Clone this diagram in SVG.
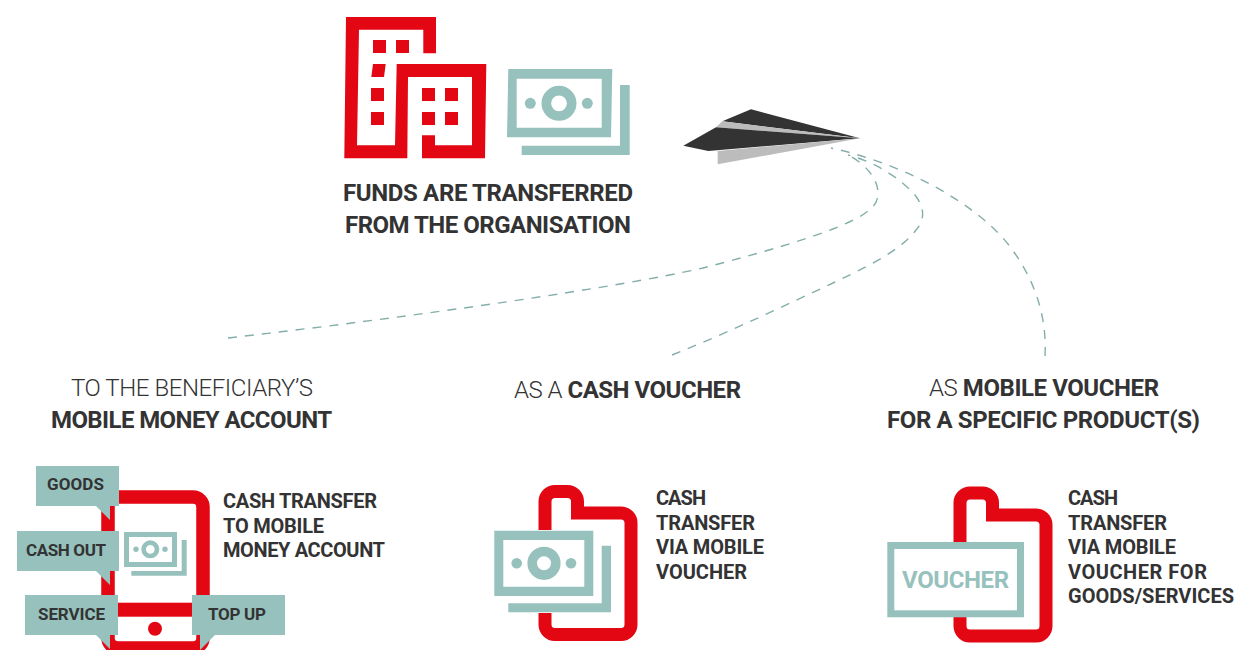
<svg xmlns="http://www.w3.org/2000/svg" width="1235" height="650" viewBox="0 0 1235 650">
<style>
.r{fill:#e30613}.t{fill:#97c1bd}.w{fill:#fff}
.rs{fill:none;stroke:#e30613;stroke-width:13;stroke-linejoin:miter}
.d{fill:none;stroke:#84aeaa;stroke-width:1.4;stroke-dasharray:9 8}
text{font-family:Roboto,"Liberation Sans",sans-serif;fill:#333334;font-weight:700}
.h{font-size:24px}.s{font-size:20px}.c{font-size:17px}
.l{font-weight:300}
</style>
<rect width="1235" height="650" fill="#fff"/>
<g id="connectors">
<path class="d" d="M228,338C420,316 620,287 703,268C800,243 850,225 866.700,212C873,207 878,203 878,193C878,178 864,163 848,155"/>
<path class="d" d="M672,355C730,332 790,303 833,283C860,270 900,252 916,230C925,220 925,208 915,195C900,178 875,162 848,155"/>
<path class="d" d="M1045,356C1047,318 1036,280 1008,244C972,200 900,163 831,148"/>
</g>
<g id="building">
<path class="r" d="M346,17H436V53.3H423.3V29.7H359L357,145.3H395L396.7,64H486.3L485,158.3H422V135.3H435V145.3H472V77H408L407.3,158.3H344.3Z"/>
<rect class="r" x="373" y="40" width="13" height="13"/><rect class="r" x="396" y="40" width="13" height="13"/>
<path class="r" d="M373,64H385.7L384,77H371.3Z"/>
<rect class="r" x="371" y="88" width="13" height="13"/><rect class="r" x="371" y="112" width="13" height="13"/>
<rect class="r" x="422" y="88" width="13" height="13"/><rect class="r" x="445" y="88" width="13" height="13"/>
<rect class="r" x="422" y="112" width="13" height="13"/><rect class="r" x="445" y="112" width="13" height="13"/>
</g>
<g id="money">
<path class="t" fill-rule="evenodd" d="M508.3,69H612.3L611,137.3H507ZM516.7,78.7V127.7H601.7V78.7Z"/>
<path class="t" d="M620,85H629.7V155H521.7V145.7H620Z"/>
<circle cx="559" cy="103.3" r="12.7" fill="none" stroke="#97c1bd" stroke-width="9.6"/>
<circle class="t" cx="530.3" cy="103.3" r="5.5"/><circle class="t" cx="587.3" cy="103.3" r="5.5"/>
</g>
<g id="plane">
<path fill="#333334" d="M751,109.3L860,138.3L722.3,121.3Z"/>
<path fill="#bcbcbc" d="M722.3,121.3L716,127.3L860,138.3Z"/>
<path fill="#333334" d="M683.3,145.7L716,127.3L860,138.3L708.3,151Z"/>
<path fill="#bcbcbc" d="M717.7,151V164.3L860,138.3Z"/>
</g>
<g id="title"><text class="h" x="343" y="201" textLength="290">FUNDS ARE TRANSFERRED</text><text class="h" x="345" y="233" textLength="286">FROM THE ORGANISATION</text></g>
<g id="label-mobile-money"><text class="h l" style="font-weight:300" x="71" y="396" textLength="242">TO THE BENEFICIARY’S</text><text class="h" x="51" y="428" textLength="281">MOBILE MONEY ACCOUNT</text></g>
<g id="label-cash-voucher"><text class="h" x="514" y="398" textLength="227"><tspan class="l">AS A </tspan>CASH VOUCHER</text></g>
<g id="label-mobile-voucher"><text class="h" x="929" y="396" textLength="230"><tspan class="l">AS </tspan>MOBILE VOUCHER</text><text class="h" x="887" y="428" textLength="313">FOR A SPECIFIC PRODUCT(S)</text></g>
<g id="phone">
<rect x="108" y="497" width="95" height="151" rx="10" fill="none" stroke="#e30613" stroke-width="13.5"/>
<rect class="r" x="108" y="602.7" width="95" height="14"/>
<circle class="r" cx="155" cy="628.7" r="7"/>
<path class="t" fill-rule="evenodd" d="M124,532H177V567H124ZM129,537V562H172V537Z"/>
<path class="t" d="M181.7,540H186.7V575.7H131.3V571H181.7Z"/>
<circle cx="150.3" cy="549.3" r="6.7" fill="none" stroke="#97c1bd" stroke-width="4.6"/>
<circle class="t" cx="136" cy="549.3" r="2.7"/><circle class="t" cx="165" cy="549.3" r="2.7"/>
</g>
<g id="goods"><path class="t" d="M36,466H119V506H110V520L96,506H36Z"/><text class="c" x="47" y="490" textLength="57">GOODS</text></g>
<g id="cash-out"><path class="t" d="M17,531H119V571H110V585L96,571H17Z"/><text class="c" x="26" y="556" textLength="80">CASH OUT</text></g>
<g id="service"><path class="t" d="M25,595H118V635H110V649L96,635H25Z"/><text class="c" x="38" y="620" textLength="67">SERVICE</text></g>
<g id="top-up"><path class="t" d="M192,595H285V635H215L200,650V635H192Z"/><text class="c" x="208" y="620" textLength="58">TOP UP</text></g>
<g id="phone-caption"><text class="s" x="223" y="508" textLength="154">CASH TRANSFER</text><text class="s" x="223" y="533" textLength="101">TO MOBILE</text><text class="s" x="223" y="557" textLength="162">MONEY ACCOUNT</text></g>
<g id="cash-voucher-icon">
<path class="rs" d="M545,520V501.500a10,10 0 0 1 10,-10h12.500a10,10 0 0 1 10,10V513H621a10,10 0 0 1 10,10V624.500a10,10 0 0 1 -10,10H555a10,10 0 0 1 -10,-10Z"/>
<rect class="w" x="494" y="530" width="118" height="83"/>
<path class="t" fill-rule="evenodd" d="M494.300,530.700H593.300V596H494.300ZM503.300,540V586.700H584.300V540Z"/>
<path class="t" d="M601.700,545.700H611V612.300H508.300V603.300H601.700Z"/>
<circle cx="544" cy="563.300" r="11.800" fill="none" stroke="#97c1bd" stroke-width="9.600"/>
<circle class="t" cx="516.700" cy="563.300" r="5.300"/><circle class="t" cx="571" cy="563.300" r="5.300"/>
</g>
<g id="cash-voucher-caption"><text class="s" x="656" y="505" textLength="50">CASH</text><text class="s" x="656" y="530" textLength="99">TRANSFER</text><text class="s" x="656" y="554" textLength="108">VIA MOBILE</text><text class="s" x="656" y="579" textLength="91">VOUCHER</text></g>
<g id="mobile-voucher-icon">
<path class="rs" d="M960,520V503a10,10 0 0 1 10,-10h12.500a10,10 0 0 1 10,10V515H1036a10,10 0 0 1 10,10V626a10,10 0 0 1 -10,10H970a10,10 0 0 1 -10,-10Z"/>
<rect x="890.800" y="545.500" width="129.700" height="68.300" fill="#fff" stroke="#97c1bd" stroke-width="7"/>
<text x="902" y="588" textLength="107" style="fill:#97c1bd;font-size:24px">VOUCHER</text>
</g>
<g id="mobile-voucher-caption"><text class="s" x="1068" y="505" textLength="50">CASH</text><text class="s" x="1068" y="530" textLength="99">TRANSFER</text><text class="s" x="1068" y="554" textLength="108">VIA MOBILE</text><text class="s" x="1068" y="579" textLength="139">VOUCHER FOR</text><text class="s" x="1068" y="603" textLength="166">GOODS/SERVICES</text></g>
</svg>
